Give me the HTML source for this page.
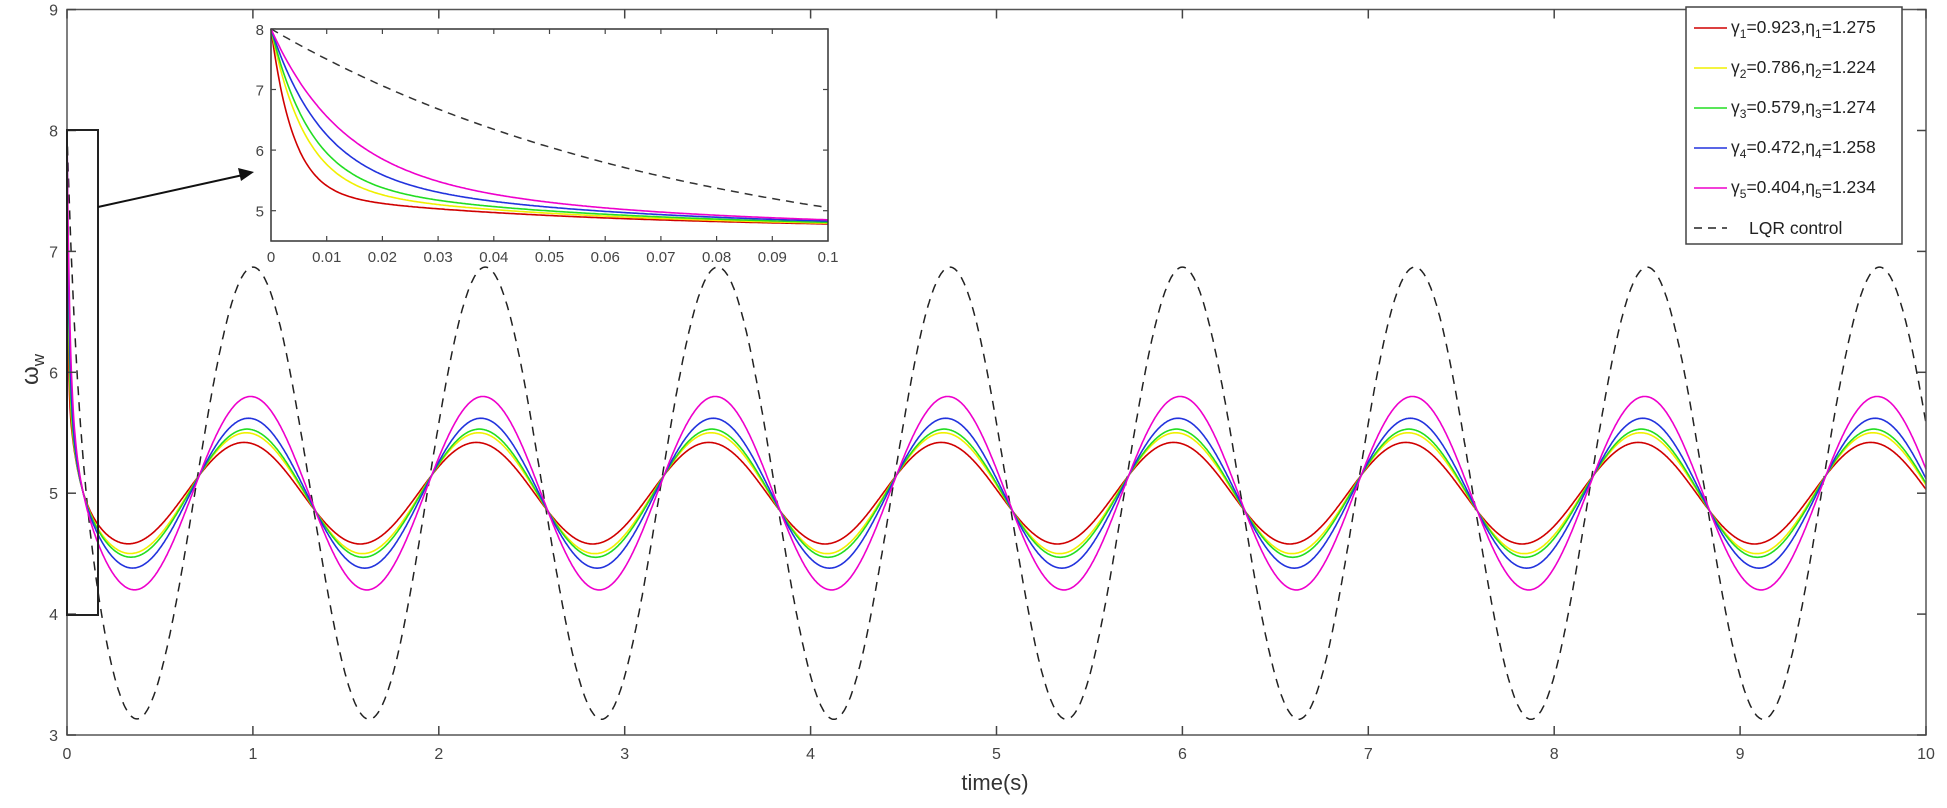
<!DOCTYPE html>
<html><head><meta charset="utf-8"><style>
html,body{margin:0;padding:0;background:#fff;}
svg{display:block;font-family:"Liberation Sans",Arial,sans-serif;}
</style></head><body>
<svg id="s" width="1947" height="808" xmlns="http://www.w3.org/2000/svg">
<rect width="1947" height="808" fill="#fff"/>
<g id="main"></g>
<rect x="67" y="9.5" width="1859" height="725.5" fill="none" stroke="#555" stroke-width="1.5"/>
<g id="ticks" stroke="#444" stroke-width="1.5"></g>
<g id="labels" fill="#444" font-size="16"></g>
<text x="995" y="790" font-size="22" fill="#333" text-anchor="middle">time(s)</text>
<text x="0" y="0" font-size="24" fill="#333" transform="translate(38,385) rotate(-90)">ω<tspan font-size="17" dy="6">w</tspan></text>
<rect x="67" y="130" width="31" height="485" fill="none" stroke="#222" stroke-width="2"/>
<line x1="98" y1="207" x2="243" y2="175" stroke="#111" stroke-width="2"/>
<polygon points="254,172 238,168 241,181" fill="#111"/>
<rect x="271" y="29" width="557" height="212" fill="#fff"/>
<g id="inset"></g>
<rect x="271" y="29" width="557" height="212" fill="none" stroke="#333" stroke-width="1.5"/>
<g id="iticks" stroke="#444" stroke-width="1.2"></g>
<g id="ilabels" fill="#444" font-size="15"></g>
<rect x="1686" y="7" width="216" height="237" fill="#fff" stroke="#444" stroke-width="1.5"/>
<g font-size="17.5" fill="#222">
<line x1="1694" y1="28" x2="1727" y2="28" stroke="#d00000" stroke-width="1.5"/>
<text x="1731" y="33">γ<tspan font-size="12" dy="5">1</tspan><tspan dy="-5">=0.923,η</tspan><tspan font-size="12" dy="5">1</tspan><tspan dy="-5">=1.275</tspan></text>
<line x1="1694" y1="68" x2="1727" y2="68" stroke="#f0f000" stroke-width="1.5"/>
<text x="1731" y="73">γ<tspan font-size="12" dy="5">2</tspan><tspan dy="-5">=0.786,η</tspan><tspan font-size="12" dy="5">2</tspan><tspan dy="-5">=1.224</tspan></text>
<line x1="1694" y1="108" x2="1727" y2="108" stroke="#22dd22" stroke-width="1.5"/>
<text x="1731" y="113">γ<tspan font-size="12" dy="5">3</tspan><tspan dy="-5">=0.579,η</tspan><tspan font-size="12" dy="5">3</tspan><tspan dy="-5">=1.274</tspan></text>
<line x1="1694" y1="148" x2="1727" y2="148" stroke="#2233dd" stroke-width="1.5"/>
<text x="1731" y="153">γ<tspan font-size="12" dy="5">4</tspan><tspan dy="-5">=0.472,η</tspan><tspan font-size="12" dy="5">4</tspan><tspan dy="-5">=1.258</tspan></text>
<line x1="1694" y1="188" x2="1727" y2="188" stroke="#ee00cc" stroke-width="1.5"/>
<text x="1731" y="193">γ<tspan font-size="12" dy="5">5</tspan><tspan dy="-5">=0.404,η</tspan><tspan font-size="12" dy="5">5</tspan><tspan dy="-5">=1.234</tspan></text>
<line x1="1694" y1="228" x2="1727" y2="228" stroke="#222" stroke-width="1.5" stroke-dasharray="8,6"/>
<text x="1749" y="234">LQR control</text>
</g>
</svg>
<script>
var NS="http://www.w3.org/2000/svg";
function el(p,n,a,t){var e=document.createElementNS(NS,n);for(var k in a)e.setAttribute(k,a[k]);if(t!=null)e.textContent=t;p.appendChild(e);return e;}
var X=function(t){return 67+t*185.9},Y=function(v){return 735-(v-3)*120.9};
var P=1.25;
function sn(t,A,d){return 5+A*Math.sin(2*Math.PI*(t-0.6875)/P-(d||0));}
var cols=["#d00000","#f0f000","#22dd22","#2233dd","#ee00cc"];
var amps=[0.42,0.5,0.53,0.62,0.8];
var tau1=[0.004,0.006,0.007,0.009,0.012],c2=[0.6,0.7,0.8,0.95,1.1];
function ins(i,t){return 4.7+c2[i]*Math.exp(-t/0.05)+(8-4.7-c2[i])*Math.exp(-t/tau1[i]);}
function lqrI(t){return 4+4*Math.exp(-t/0.0748);}
var m=document.getElementById("main");
function path(g,f,t0,t1,n,xf,yf,st){var d="";for(var i=0;i<=n;i++){var t=t0+(t1-t0)*i/n;d+=(i?"L":"M")+xf(t).toFixed(1)+","+yf(f(t)).toFixed(1);}el(g,"path",Object.assign({d:d,fill:"none"},st));}
path(m,function(t){return sn(t,1.87)+(8-sn(0,1.87))*Math.exp(-t/0.056);},0,10,3000,X,Y,{stroke:"#222","stroke-width":1.5,"stroke-dasharray":"9,7"});
var SH=0.025;
for(var i=0;i<5;i++){(function(i){var A=amps[i],d=-Math.asin(0.15/A),s0=sn(-SH,A,d);
path(m,function(t){return sn(t-SH,A,d)+(8-s0)*(0.7*Math.exp(-t/(tau1[i]*1.2))+0.3*Math.exp(-t/0.05));},0,10,3000,X,Y,{stroke:cols[i],"stroke-width":1.6});})(i);}
var tk=document.getElementById("ticks"),lb=document.getElementById("labels");
for(var k=0;k<=10;k++){var x=X(k);el(tk,"line",{x1:x,y1:735,x2:x,y2:726});el(tk,"line",{x1:x,y1:9.5,x2:x,y2:18.5});el(lb,"text",{x:x,y:759,"text-anchor":"middle"},k);}
for(var v=3;v<=9;v++){var y=Y(v);el(tk,"line",{x1:67,y1:y,x2:76,y2:y});el(tk,"line",{x1:1926,y1:y,x2:1917,y2:y});el(lb,"text",{x:58,y:y+6,"text-anchor":"end"},v);}
var IX=function(t){return 271+t*5570},IY=function(v){return 241-(v-4.5)*60.6};
var g=document.getElementById("inset");
path(g,lqrI,0,0.1,200,IX,IY,{stroke:"#333","stroke-width":1.5,"stroke-dasharray":"8,6"});
for(var i=0;i<5;i++){(function(i){path(g,function(t){return ins(i,t);},0,0.1,400,IX,IY,{stroke:cols[i],"stroke-width":1.6});})(i);}
var it=document.getElementById("iticks"),il=document.getElementById("ilabels");
for(var k=0;k<=10;k++){var x=IX(k/100);el(it,"line",{x1:x,y1:241,x2:x,y2:236});el(it,"line",{x1:x,y1:29,x2:x,y2:34});el(il,"text",{x:x,y:262,"text-anchor":"middle"},k==0?"0":k==10?"0.1":(k/100).toFixed(2));}
for(var v=5;v<=8;v++){var y=IY(v);el(it,"line",{x1:271,y1:y,x2:276,y2:y});el(it,"line",{x1:828,y1:y,x2:823,y2:y});el(il,"text",{x:264,y:y+6,"text-anchor":"end"},v);}
</script>
</body></html>
